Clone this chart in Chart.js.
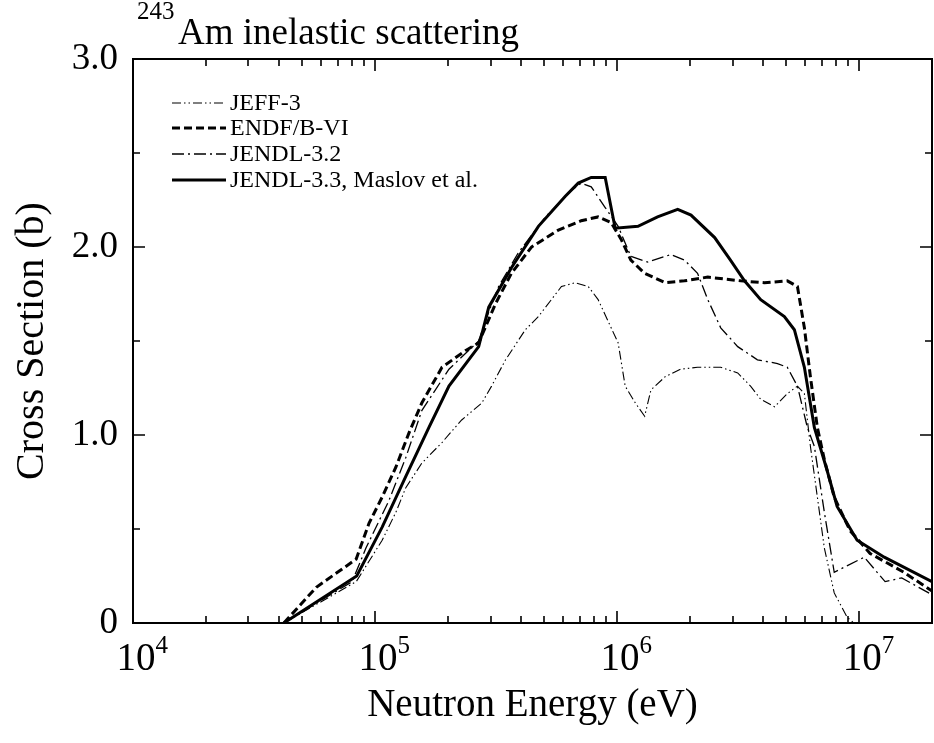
<!DOCTYPE html>
<html>
<head>
<meta charset="utf-8">
<title>243Am inelastic scattering</title>
<script src="https://cdn.jsdelivr.net/npm/chart.js@4/dist/chart.umd.min.js"></script>
<style>
  html, body { margin: 0; padding: 0; background: #fff; }
  canvas { display: block; }
</style>
</head>
<body>
<canvas id="xsChart" width="934" height="743"></canvas>
<script>
// 243Am inelastic scattering cross section (eV, barn)
const jeffEnergy = [4.2e4, 8.36e4, 1.07e5, 1.22e5, 1.34e5, 1.56e5, 1.89e5, 2.28e5, 2.76e5, 3.03e5, 3.46e5, 4.18e5, 4.73e5, 5.89e5, 6.72e5, 7.6e5, 8.35e5, 9.45e5, 1.01e6, 1.08e6, 1.19e6, 1.3e6, 1.38e6, 1.58e6, 1.83e6, 2.15e6, 2.68e6, 3.15e6, 3.56e6, 3.92e6, 4.47e6, 5.05e6, 5.56e6, 5.94e6, 6.29e6, 6.72e6, 7.18e6, 7.89e6, 8.93e6, 9.52e6]
const jeffXS = [0, 0.22, 0.44, 0.59, 0.72, 0.85, 0.96, 1.08, 1.17, 1.26, 1.40, 1.56, 1.63, 1.79, 1.81, 1.79, 1.72, 1.57, 1.49, 1.26, 1.17, 1.10, 1.24, 1.31, 1.35, 1.36, 1.36, 1.33, 1.26, 1.19, 1.15, 1.22, 1.26, 1.22, 0.94, 0.67, 0.40, 0.16, 0.03, 0]

const endfEnergy = [4.2e4, 5.72e4, 8.36e4, 9.44e4, 1.07e5, 1.22e5, 1.38e5, 1.56e5, 1.89e5, 2.37e5, 2.68e5, 3.15e5, 3.66e5, 4.43e5, 5.72e5, 7.11e5, 8.35e5, 9.45e5, 1.04e6, 1.14e6, 1.3e6, 1.58e6, 1.9e6, 2.37e6, 3.24e6, 4.06e6, 5.05e6, 5.56e6, 5.94e6, 6.29e6, 6.72e6, 7.18e6, 7.89e6, 9.18e6, 1.11e7, 1.53e7, 2.0e7]
const endfXS = [0, 0.19, 0.34, 0.53, 0.67, 0.83, 1.01, 1.17, 1.36, 1.45, 1.49, 1.70, 1.86, 2.00, 2.09, 2.14, 2.16, 2.13, 2.04, 1.93, 1.86, 1.81, 1.82, 1.84, 1.82, 1.81, 1.82, 1.79, 1.57, 1.31, 1.04, 0.87, 0.67, 0.49, 0.37, 0.27, 0.17]

const jendl32Energy = [4.2e4, 8.04e4, 9.18e4, 1.14e5, 1.34e5, 1.56e5, 2.02e5, 2.68e5, 2.86e5, 3.24e5, 3.91e5, 5.06e5, 6.47e5, 7.11e5, 7.82e5, 8.93e5, 1.01e6, 1.14e6, 1.34e6, 1.67e6, 1.9e6, 2.15e6, 2.37e6, 2.68e6, 3.15e6, 3.8e6, 4.6e6, 5.05e6, 5.56e6, 6.11e6, 6.53e6, 7.18e6, 7.89e6, 1.05e7, 1.28e7, 1.5e7, 2.0e7]
const jendl32XS = [0, 0.22, 0.40, 0.65, 0.88, 1.13, 1.35, 1.50, 1.61, 1.79, 1.97, 2.16, 2.30, 2.34, 2.32, 2.21, 2.11, 1.95, 1.92, 1.96, 1.93, 1.86, 1.72, 1.57, 1.47, 1.40, 1.38, 1.36, 1.26, 1.04, 0.94, 0.59, 0.27, 0.35, 0.22, 0.24, 0.15]

const jendl33Energy = [4.2e4, 8.4e4, 1.07e5, 1.34e5, 1.67e5, 2.02e5, 2.68e5, 2.95e5, 3.66e5, 4.73e5, 6.11e5, 6.91e5, 7.82e5, 8.93e5, 9.82e5, 1.22e6, 1.47e6, 1.78e6, 2.02e6, 2.53e6, 2.94e6, 3.36e6, 3.92e6, 4.91e6, 5.4e6, 5.94e6, 6.53e6, 7.38e6, 8.11e6, 9.81e6, 1.27e7, 2.0e7]
const jendl33XS = [0, 0.25, 0.51, 0.78, 1.04, 1.26, 1.47, 1.68, 1.89, 2.11, 2.27, 2.34, 2.37, 2.37, 2.10, 2.11, 2.16, 2.20, 2.17, 2.05, 1.93, 1.82, 1.72, 1.63, 1.56, 1.36, 1.04, 0.81, 0.62, 0.44, 0.35, 0.22]

const seriesLabels = ['JEFF-3', 'ENDF/B-VI', 'JENDL-3.2', 'JENDL-3.3, Maslov et al.']

// axis ticks
const xMajorTicks = [1e4, 1e5, 1e6, 1e7]
const xMajorExponents = ['4', '5', '6', '7']
const xMinorTicks = [2e4, 3e4, 4e4, 5e4, 6e4, 7e4, 8e4, 9e4, 2e5, 3e5, 4e5, 5e5, 6e5, 7e5, 8e5, 9e5, 2e6, 3e6, 4e6, 5e6, 6e6, 7e6, 8e6, 9e6]
const yTickValues = [0, 0.5, 1, 1.5, 2, 2.5, 3]
const yTickLabels = ['0', '', '1.0', '', '2.0', '', '3.0']

const SERIF = "'Liberation Serif', 'Times New Roman', serif"
const INK = '#000'

function toPoints(xs, ys) { return xs.map((v, i) => ({ x: v, y: ys[i] })) }

// frame, inward ticks, x labels with superscripts, title and legend
const decorations = {
  id: 'decorations',
  afterDatasetsDraw(chart) {
    const { ctx, chartArea: a, scales: { x, y } } = chart
    ctx.save()
    ctx.strokeStyle = INK
    ctx.fillStyle = INK
    ctx.lineWidth = 2
    ctx.setLineDash([])
    ctx.strokeRect(a.left, a.top, a.right - a.left, a.bottom - a.top)

    ctx.lineWidth = 1.6
    ctx.beginPath()
    x.ticks.forEach((t) => {
      const px = Math.round(x.getPixelForValue(t.value))
      if (px <= a.left + 1 || px >= a.right - 1) return
      const len = t.major ? 12 : 7
      ctx.moveTo(px, a.bottom); ctx.lineTo(px, a.bottom - len)
      ctx.moveTo(px, a.top); ctx.lineTo(px, a.top + len)
    })
    y.ticks.forEach((t, i) => {
      const py = Math.round(y.getPixelForValue(t.value))
      if (py <= a.top + 1 || py >= a.bottom - 1) return
      const len = i % 2 === 0 ? 12 : 7
      ctx.moveTo(a.left, py); ctx.lineTo(a.left + len, py)
      ctx.moveTo(a.right, py); ctx.lineTo(a.right - len, py)
    })
    ctx.stroke()

    // x tick labels: 10 with exponent
    ctx.textBaseline = 'alphabetic'
    xMajorTicks.forEach((v, i) => {
      const px = x.getPixelForValue(v)
      ctx.font = '39px ' + SERIF
      ctx.textAlign = 'center'
      ctx.fillText('10', px + 3, 670)
      const w = ctx.measureText('10').width
      ctx.font = '25px ' + SERIF
      ctx.textAlign = 'left'
      ctx.fillText(xMajorExponents[i], px + 3 + w / 2, 653)
    })

    // title
    ctx.textAlign = 'left'
    ctx.font = '25px ' + SERIF
    ctx.fillText('243', 137, 19)
    ctx.font = '37px ' + SERIF
    ctx.fillText('Am inelastic scattering', 178, 44)

    // legend
    const rows = [103, 128, 154, 180]
    chart.data.datasets.forEach((ds, i) => {
      ctx.beginPath()
      ctx.lineWidth = ds.borderWidth
      ctx.setLineDash(ds.borderDash || [])
      ctx.moveTo(172, rows[i]); ctx.lineTo(226, rows[i])
      ctx.stroke()
      ctx.setLineDash([])
      ctx.font = '24px ' + SERIF
      ctx.textBaseline = 'middle'
      ctx.fillText(ds.label, 230, rows[i] + 1)
    })
    ctx.restore()
  }
}

const ctx = document.getElementById('xsChart').getContext('2d')
// eslint-disable-next-line no-undef
const chart = new Chart(ctx, {
  type: 'scatter',
  data: {
    datasets: [
      { label: seriesLabels[0], data: toPoints(jeffEnergy, jeffXS), borderWidth: 1.1, borderDash: [9, 3, 1.5, 3, 1.5, 3] },
      { label: seriesLabels[1], data: toPoints(endfEnergy, endfXS), borderWidth: 3, borderDash: [8, 4] },
      { label: seriesLabels[2], data: toPoints(jendl32Energy, jendl32XS), borderWidth: 1.3, borderDash: [12, 4, 2, 4] },
      { label: seriesLabels[3], data: toPoints(jendl33Energy, jendl33XS), borderWidth: 3, borderDash: [] }
    ].map((d) => Object.assign(d, { showLine: true, borderColor: INK, backgroundColor: INK, pointRadius: 0, fill: false, tension: 0 }))
  },
  options: {
    responsive: false,
    animation: false,
    devicePixelRatio: 1,
    layout: { padding: { left: 0, top: 59, right: 2, bottom: 0 } },
    plugins: { legend: { display: false }, tooltip: { enabled: false } },
    scales: {
      x: {
        type: 'logarithmic',
        min: 1e4,
        max: 2e7,
        grid: { display: false, drawTicks: false },
        border: { display: false },
        ticks: { display: false },
        afterBuildTicks: (scale) => {
          scale.ticks = xMajorTicks.map((v) => ({ value: v, major: true }))
            .concat(xMinorTicks.map((v) => ({ value: v, major: false })))
        },
        afterFit: (scale) => { scale.height = 120 },
        title: { display: true, text: 'Neutron Energy (eV)', color: INK, font: { family: SERIF, size: 39 }, padding: { top: 0, bottom: 14 } }
      },
      y: {
        min: 0,
        max: 3,
        grid: { display: false, drawTicks: false },
        border: { display: false },
        afterBuildTicks: (scale) => { scale.ticks = yTickValues.map((v) => ({ value: v })) },
        ticks: {
          autoSkip: false,
          padding: 15,
          color: INK,
          font: { family: SERIF, size: 37 },
          callback: (value, index) => yTickLabels[index]
        },
        afterFit: (scale) => { scale.width = 133 },
        title: { display: true, text: 'Cross Section (b)', color: INK, font: { family: SERIF, size: 40 }, padding: { top: 8, bottom: 0 } }
      }
    }
  },
  plugins: [decorations]
})
</script>
</body>
</html>
